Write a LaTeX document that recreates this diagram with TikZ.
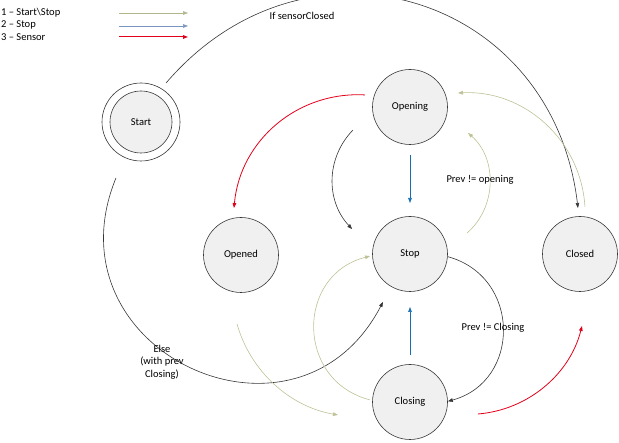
\documentclass[tikz,border=0pt]{standalone}
\usepackage{fontspec}
\setmainfont{Carlito}
\usetikzlibrary{arrows.meta,calc}
\definecolor{startstop}{RGB}{190,193,150}
\definecolor{stopblue}{RGB}{20,110,180}
\definecolor{sensorred}{RGB}{226,0,26}
\definecolor{legendolive}{RGB}{178,182,140}
\definecolor{legendblue}{RGB}{122,150,192}
\definecolor{edgegray}{RGB}{55,55,55}
\definecolor{statefill}{RGB}{240,240,240}
\newcommand\diagfont{\fontsize{10.5}{12.5}\selectfont}
\tikzset{
  state/.style={circle,draw=edgegray,line width=0.6pt,minimum size=75pt,inner sep=0pt,
    fill=statefill},
  flow/.style={line width=0.6pt,-{Triangle[length=5pt,width=3.6pt]}},
  plainline/.style={flow,draw=edgegray},
  startline/.style={flow,draw=startstop},
  stopline/.style={flow,draw=stopblue},
  sensorline/.style={flow,draw=sensorred,line width=0.8pt}
}
\begin{document}
\begin{tikzpicture}[x=1pt,y=1pt,every node/.style={font=\diagfont}]
  \useasboundingbox (0,0) rectangle (619,-443);
  % legend
  \node[anchor=west,inner sep=0pt] (leg1) at (1,-12.5) {1 – Start\textbackslash Stop};
  \node[anchor=west,inner sep=0pt] (leg2) at (1,-25) {2 – Stop};
  \node[anchor=west,inner sep=0pt] (leg3) at (1,-37.5) {3 – Sensor};
  \coordinate (l1a) at (119,-13); \coordinate (l1b) at (188,-13);
  \coordinate (l2a) at (119,-26); \coordinate (l2b) at (188,-26);
  \coordinate (l3a) at (119,-37); \coordinate (l3b) at (188,-37);
  \draw[flow,draw=legendolive] (l1a) -- (l1b);
  \draw[flow,draw=legendblue] (l2a) -- (l2b);
  \draw[sensorline,line width=1pt] (l3a) -- (l3b);
  % states
  \node[circle,draw=edgegray,line width=0.6pt,fill=white,minimum size=78pt] (StartRing) at (141,-122) {};
  \node[state,minimum size=62pt] (Start) at (141,-122) {Start};
  \node[state] (Opening) at (410,-107) {Opening};
  \node[state] (Stop) at (410,-254) {Stop};
  \node[state] (Closed) at (580,-254) {Closed};
  \node[state] (Opened) at (241,-255) {Opened};
  \node[state] (Closing) at (410,-402) {Closing};
  % transitions
  \draw[plainline] ($(StartRing)+(57.3:46.3)$) to[out=49.4,in=96.8,looseness=1.28] ($(Closed)+(92.5:46)$);
  \draw[plainline] ($(StartRing)+(245.9:61.3)$) to[out=247.7,in=242.5,looseness=1.63] ($(Stop)+(240.6:55)$);
  \draw[sensorline] ($(Opening)+(165:46.6)$) to[out=176.8,in=84.8] ($(Opened)+(98.5:47.5)$);
  \draw[plainline] ($(Opening)+(202:61.5)$) to[out=225.7,in=133.1] ($(Stop)+(156.7:63)$);
  \draw[stopline] ($(Opening)+(270:48)$) -- ($(Stop)+(90:51)$);
  \draw[startline] ($(Stop)+(20.2:60.7)$) to[out=40.6,in=-41.2] ($(Opening)+(-24.1:63.6)$);
  \draw[startline] ($(Closed)+(84:47.3)$) to[out=93.3,in=2.8] ($(Opening)+(16.3:50)$);
  \draw[plainline] (Stop.-4.5) to[out=-15.2,in=15.2,looseness=1.35] (Closing.1.5);
  \draw[stopline] ($(Closing)+(90:47)$) -- ($(Stop)+(270:53)$);
  \draw[startline] ($(Closing)+(177:40)$) to[out=165.7,in=194.3,looseness=1.37] ($(Stop)+(183:40)$);
  \draw[startline] ($(Opened)+(266.7:69.1)$) to[out=285.7,in=170.2,looseness=0.92] ($(Closing)+(190.2:73.2)$);
  \draw[sensorline] ($(Closing)+(-10:69)$) to[out=4.6,in=255.8,looseness=0.94] ($(Closed)+(271.6:72)$);
  % labels
  \node (ifClosed) at (302,-16) {If sensorClosed};
  \node[align=center] (elseLbl) at (162,-362) {Else\\(with prev\\Closing)};
  \node (prevOpen) at (480,-180) {Prev != opening};
  \node (prevClose) at (493,-328) {Prev != Closing};
\end{tikzpicture}
\end{document}
